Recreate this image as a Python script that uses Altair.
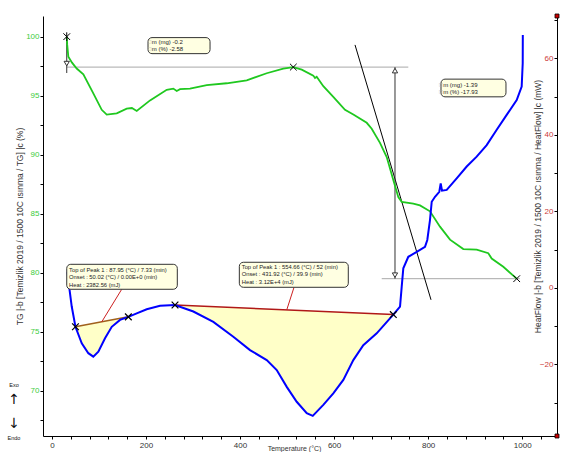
import altair as alt
import pandas as pd

# ---- scales -------------------------------------------------------------
T_DOMAIN = [-19, 1074]
TG_DOMAIN = [66.16, 101.75]
HF_DOMAIN = [-38.75, 71.06]
W, H = 514, 420

# ---- TG curve (mass %) ---------------------------------------------------
tg_temp = [31.5, 32.5, 34.9, 42.7, 52.7, 66.8, 88.0, 105.9, 116.5, 137.8, 159.0,
           170.0, 180.3, 208.6, 244.1, 258.1, 265.4, 272.4, 293.6, 329.2, 371.7,
           414.2, 456.7, 492.0, 513.3, 531.2, 555.8, 559.4, 563.0, 577.1, 598.3,
           623.2, 640.9, 669.4, 680.0, 697.6, 711.9, 725.9, 736.6, 743.8, 768.4,
           782.7, 803.9, 825.2, 846.5, 874.8, 903.2, 927.9, 935.1, 959.8, 988.3]
tg_pct = [100.0, 99.3, 98.3, 97.8, 97.3, 96.8, 95.2, 93.8, 93.4, 93.5, 93.9,
          93.95, 93.7, 94.6, 95.5, 95.6, 95.4, 95.55, 95.6, 95.9, 96.05,
          96.3, 96.9, 97.3, 97.42, 97.2, 96.7, 96.5, 96.6, 95.8, 94.9,
          93.8, 93.4, 92.7, 92.2, 91.0, 89.8, 87.85, 86.4, 86.0, 85.85,
          85.7, 85.2, 83.9, 82.8, 82.0, 81.95, 81.65, 81.2, 80.5, 79.49]

# ---- Heat flow curve (mW) -----------------------------------------------
hf_temp = [33.2, 34.9, 37.0, 42.1, 50.0, 63.4, 77.4, 87.95, 98.7, 112.9, 127.2,
           144.8, 162.5, 180.3, 201.6, 229.9, 261.7, 300.7, 343.2, 385.7, 421.2,
           456.7, 478.0, 499.3, 520.5, 541.8, 554.66, 577.1, 598.3, 619.6, 640.9,
           662.1, 690.6, 725.9, 740.2, 743.8, 747.2, 757.8, 775.7, 793.3, 798.2,
           803.9, 807.6, 814.6, 823.7, 826.7, 829.5, 839.5, 860.7, 882.0, 903.2,
           924.5, 945.8, 967.0, 988.3, 998.9, 1001.1, 1001.3]
hf_mw = [4.1, 2.0, -0.1, -4.9, -10.2, -14.5, -17.1, -18.0, -16.7, -13.2, -10.2,
         -8.4, -7.6, -6.7, -5.6, -4.7, -4.5, -6.2, -8.9, -12.8, -16.3,
         -18.9, -21.5, -25.9, -29.8, -32.8, -33.5, -30.6, -27.6, -24.1, -18.9,
         -15.0, -11.9, -7.0, -4.9, 0.3, 5.1, 8.1, 9.4, 10.7, 12.5,
         17.7, 22.5, 23.8, 25.1, 27.3, 25.4, 25.6, 28.6, 31.7, 34.3,
         37.3, 41.3, 45.2, 49.1, 52.6, 58.7, 66.1]

# ---- mass-loss evaluation ------------------------------------------------
start_temp = 31.5
step1_pct = -2.58
step2_pct = -17.93
step1_mg = -0.2
step2_mg = -1.39
level1 = 100 + step1_pct
level2 = level1 + step2_pct
level1_span = [31.5, 757.8]
level2_span = [701.3, 995.0]
arrow_temp = 729.5
tangent_t = [644.5, 806.1]
tangent_pct = [99.3, 77.7]
tg_mark_t = [513.3, 988.3]
tg_mark_pct = [level1, level2]

# ---- DSC peak integration -----------------------------------------------
peak1_base_t = [50.0, 162.5]
peak1_base_mw = [-10.2, -7.6]
peak2_base_t = [261.7, 725.9]
peak2_base_mw = [-4.5, -7.0]
peak1_lines = ["Top of Peak 1 :  87.95 (°C) / 7.33 (min)",
               "Onset :  50.02 (°C) / 0.00E+0 (min)",
               "Heat :  2382.56 (mJ)"]
peak2_lines = ["Top of Peak 1 :  554.66 (°C) / 52 (min)",
               "Onset :  431.92 (°C) / 39.9 (min)",
               "Heat :  3.12E+4 (mJ)"]

FONT = "Liberation Sans"
GREEN = "#1fc81f"
BLUE = "#0000ff"

xs = alt.Scale(domain=T_DOMAIN, nice=False, zero=False)
tgs = alt.Scale(domain=TG_DOMAIN, nice=False, zero=False)
hfs = alt.Scale(domain=HF_DOMAIN, nice=False, zero=False)

x_axis = alt.Axis(
    values=list(range(0, 1041, 40)), format="d",
    labelExpr="datum.value % 200 === 0 ? datum.label : ''",
    tickSize=3, labelPadding=2, labelFontSize=8, labelColor="#333",
    labelOverlap=False, labelFlush=False, grid=False,
    title="Temperature (°C)", titleFontSize=7, titleFontWeight="normal",
    titleColor="#333", titleX=251, titleY=15.5, titleBaseline="bottom",
)
tg_axis = alt.Axis(
    values=[67.5 + 2.5 * i for i in range(14)], format="d",
    labelExpr="datum.value % 5 === 0 ? datum.label : ''",
    tickSize=3, labelPadding=1, labelFontSize=8, labelColor="#3ccc3c",
    labelOverlap=False, labelFlush=False, grid=False,
    title="TG |-b [Temizlik 2019 / 1500 10C ısınma / TG] |c (%)",
    titleFontSize=8.5, titleFontWeight="normal", titleColor="#333", titleX=-19,
)
hf_axis = alt.Axis(
    orient="left", offset=-W,
    values=list(range(-30, 71, 10)), format="d",
    labelExpr="datum.value % 20 === 0 ? datum.label : ''",
    tickSize=3, labelPadding=1, labelFontSize=8, labelColor="#cc3a3a",
    labelOverlap=False, labelFlush=False, grid=False,
    title="HeatFlow |-b [Temizlik 2019 / 1500 10C ısınma / HeatFlow] |c (mW)",
    titleFontSize=8.5, titleFontWeight="normal", titleColor="#333",
    titleX=-15, titleY=190,
)


# every layer on a scale carries the same axis definition so they merge cleanly
def X(field="t", **kw):
    return alt.X(f"{field}:Q", scale=xs, axis=x_axis, **kw)


def YT(field="v", **kw):
    return alt.Y(f"{field}:Q", scale=tgs, axis=tg_axis, **kw)


def YH(field="v", **kw):
    return alt.Y(f"{field}:Q", scale=hfs, axis=hf_axis, **kw)


def base_at(t, bt, bm):
    return bm[0] + (t - bt[0]) / (bt[1] - bt[0]) * (bm[1] - bm[0])


# ---------------- TG layers ----------------
tg_df = pd.DataFrame({"t": tg_temp, "v": tg_pct})
tg_line = alt.Chart(tg_df).mark_line(color=GREEN, strokeWidth=1.8).encode(
    x=X(), y=YT())

levels_df = pd.DataFrame({"t": [level1_span[0], level2_span[0]],
                          "t2": [level1_span[1], level2_span[1]],
                          "v": [level1, level2]})
levels = alt.Chart(levels_df).mark_rule(color="#a8a8a8", strokeWidth=1).encode(
    x=X(), x2="t2:Q", y=YT())

arrows_df = pd.DataFrame({"t": [arrow_temp, start_temp],
                          "v": [level1, 100.0], "v2": [level2, level1 - 0.5]})
arrow_lines = alt.Chart(arrows_df).mark_rule(color="#333", strokeWidth=1).encode(
    x=X(), y=YT(), y2="v2:Q")

tri_up = alt.Chart(pd.DataFrame({"t": [arrow_temp], "v": [level1]})).mark_point(
    shape="triangle-up", size=28, filled=True, fill="white", stroke="#333",
    strokeWidth=1, opacity=1, yOffset=3.5).encode(x=X(), y=YT())
tri_down = alt.Chart(pd.DataFrame({"t": [arrow_temp, start_temp],
                                   "v": [level2, level1]})).mark_point(
    shape="triangle-down", size=28, filled=True, fill="white", stroke="#333",
    strokeWidth=1, opacity=1, yOffset=-3.5).encode(x=X(), y=YT())

tangent = alt.Chart(pd.DataFrame({"t": [tangent_t[0]], "t2": [tangent_t[1]],
                                  "v": [tangent_pct[0]], "v2": [tangent_pct[1]]})
                    ).mark_rule(color="black", strokeWidth=1).encode(
    x=X(), x2="t2:Q", y=YT(), y2="v2:Q")

cross_path = "M-1,-1L1,1M-1,1L1,-1"
star_path = "M-1,-1L1,1M-1,1L1,-1M0,-1.3L0,1.3"
tg_marks = alt.Chart(pd.DataFrame({"t": tg_mark_t, "v": tg_mark_pct})).mark_point(
    shape=cross_path, size=45, color="black", strokeWidth=1, opacity=1).encode(
    x=X(), y=YT())
start_mark = alt.Chart(pd.DataFrame({"t": [start_temp], "v": [100.0]})).mark_point(
    shape=star_path, size=45, color="black", strokeWidth=1, opacity=1).encode(
    x=X(), y=YT())

# mass-loss boxes
mbox_df = pd.DataFrame({"t": [204.3, 827.3], "t2": [336.2, 965.5],
                        "v": [99.92, 96.4], "v2": [98.56, 94.9]})
mbox_shadow = alt.Chart(mbox_df).mark_rect(
    fill="#c8c8c8", cornerRadius=4, xOffset=1.5, yOffset=1.5).encode(
    x=X(), x2="t2:Q", y=YT(), y2="v2:Q")
mbox = alt.Chart(mbox_df).mark_rect(
    fill="#ffffe2", stroke="#333", strokeWidth=1, cornerRadius=4).encode(
    x=X(), x2="t2:Q", y=YT(), y2="v2:Q")
mtext_df = pd.DataFrame({
    "t": [212.5, 212.5, 832.0, 832.0],
    "v": [99.51, 98.92, 95.9, 95.34],
    "s": [f"m (mg) {step1_mg}", f"m (%) {step1_pct}",
          f"m (mg) {step2_mg}", f"m (%) {step2_pct}"],
})
mtext = alt.Chart(mtext_df).mark_text(
    align="left", baseline="middle", font=FONT, fontSize=6, color="#222").encode(
    x=X(), y=YT(), text="s:N")
# small check-box glyphs in front of each line
mcheck = alt.Chart(mtext_df).mark_text(
    align="right", baseline="middle", font="DejaVu Sans", fontSize=4.5,
    color="#b0b0b0", text="\u25a1", dx=-0.3).encode(x=X(), y=YT())

tg_layer = alt.layer(levels, tangent, arrow_lines, tri_up, tri_down, tg_line,
                     tg_marks, start_mark, mbox_shadow, mbox, mtext, mcheck)

# ---------------- Heat flow layers ----------------
hf_df = pd.DataFrame({"t": hf_temp, "v": hf_mw, "i": range(len(hf_temp))})


def peak_fill(bt, bm):
    slope = (bm[1] - bm[0]) / (bt[1] - bt[0])
    return alt.Chart(hf_df).transform_filter(
        f"datum.t >= {bt[0]} && datum.t <= {bt[1]}"
    ).transform_calculate(
        b=f"{bm[0]} + (datum.t - {bt[0]}) * {slope}"
    ).mark_area(color="#ffffc8", opacity=1, interpolate="linear").encode(
        x=X(), y=YH(), y2="b:Q")


fill1 = peak_fill(peak1_base_t, peak1_base_mw)
fill2 = peak_fill(peak2_base_t, peak2_base_mw)

base1 = alt.Chart(pd.DataFrame({"t": peak1_base_t, "v": peak1_base_mw})).mark_line(
    color="#a0601c", strokeWidth=1.5).encode(x=X(), y=YH())
base2 = alt.Chart(pd.DataFrame({"t": peak2_base_t, "v": peak2_base_mw})).mark_line(
    color="#b01818", strokeWidth=1.5).encode(x=X(), y=YH())

hf_line = alt.Chart(hf_df).mark_line(color=BLUE, strokeWidth=2).encode(
    x=X(), y=YH(), order="i:Q")

peak_marks = alt.Chart(pd.DataFrame({
    "t": peak1_base_t + peak2_base_t, "v": peak1_base_mw + peak2_base_mw})
).mark_point(shape=cross_path, size=45, color="black", strokeWidth=1.2,
             opacity=1).encode(x=X(), y=YH())

conn_t1, conn_t2 = 105.9, 499.3
conn_df = pd.DataFrame({
    "t": [148.4, 514.8], "t2": [conn_t1, conn_t2], "v": [-0.39, 0.13],
    "v2": [base_at(conn_t1, peak1_base_t, peak1_base_mw),
           base_at(conn_t2, peak2_base_t, peak2_base_mw)],
})
connectors = alt.Chart(conn_df).mark_rule(color="#cc2020", strokeWidth=1).encode(
    x=X(), x2="t2:Q", y=YH(), y2="v2:Q")

pbox_df = pd.DataFrame({"t": [31.5, 398.5], "t2": [266.6, 630.2],
                        "v": [6.14, 6.67], "v2": [-0.39, 0.13]})
pbox_shadow = alt.Chart(pbox_df).mark_rect(
    fill="#c8c8c8", cornerRadius=4, xOffset=1.5, yOffset=1.5).encode(
    x=X(), x2="t2:Q", y=YH(), y2="v2:Q")
pbox = alt.Chart(pbox_df).mark_rect(
    fill="#ffffe2", stroke="#333", strokeWidth=1, cornerRadius=4).encode(
    x=X(), x2="t2:Q", y=YH(), y2="v2:Q")
ptext_df = pd.DataFrame({
    "t": [36.4] * 3 + [403.6] * 3,
    "v": [4.78, 2.82, 0.86, 5.52, 3.53, 1.52],
    "s": peak1_lines + peak2_lines,
})
ptext = alt.Chart(ptext_df).mark_text(
    align="left", baseline="middle", font=FONT, fontSize=5.8, color="#222").encode(
    x=X(), y=YH(), text="s:N")


def label(txt, py, size, font=FONT):
    return alt.Chart(pd.DataFrame({"s": [txt]})).mark_text(
        align="center", baseline="middle", font=font, fontSize=size,
        color="#111").encode(text="s:N", x=alt.value(-29), y=alt.value(py))


exo = label("Exo", 369, 5.5)
up = label("\u2191", 384, 14, "DejaVu Sans")
down = label("\u2193", 408, 14, "DejaVu Sans")
endo = label("Endo", 422, 5.5)


def end_square(py):
    return alt.Chart(pd.DataFrame({"a": [0]})).mark_square(
        size=16, color="#cc0000", stroke="black", strokeWidth=0.8, opacity=1
    ).encode(x=alt.value(W), y=alt.value(py))


hf_layer = alt.layer(fill1, fill2, base1, base2, connectors, hf_line, peak_marks,
                     pbox_shadow, pbox, ptext, exo, up, down, endo,
                     end_square(0), end_square(H))

chart = alt.layer(tg_layer, hf_layer).resolve_scale(y="independent").properties(
    width=W, height=H,
    padding={"left": 43, "top": 16, "right": 6, "bottom": 16},
    autosize="none",
).configure_view(stroke=None).configure_axis(
    domainColor="black", tickColor="black", labelFont=FONT, titleFont=FONT,
)

chart.save("out.html", embed_options={"renderer": "svg", "actions": False})
